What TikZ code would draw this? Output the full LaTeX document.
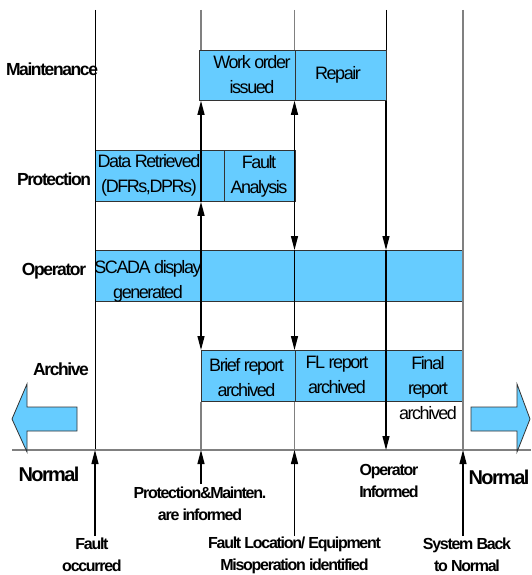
\documentclass[tikz,border=0pt]{standalone}
\usepackage{fontspec}
\setmainfont[LetterSpace=-8]{Liberation Sans}
\usetikzlibrary{arrows.meta}
\definecolor{boxblue}{RGB}{102,204,255}
\definecolor{linegrey}{RGB}{128,128,128}
\begin{document}
\begin{tikzpicture}[x=1pt,y=-1pt,
  box/.style={draw=black!80, fill=boxblue, line width=0.8pt, inner sep=0pt, anchor=north west},
  lane/.style={font=\bfseries\fontsize{17.5}{21}\selectfont, inner sep=0pt},
  txt/.style={font=\fontsize{18}{25}\selectfont, align=center, inner sep=0pt},
  evt/.style={font=\bfseries\fontsize{16}{22}\selectfont, align=center, inner sep=0pt},
  nrm/.style={font=\bfseries\fontsize{20}{24}\selectfont, inner sep=0pt},
  gl/.style={draw=linegrey, line width=1.2pt},
  bl/.style={draw=black, line width=0.8pt},
  arr/.style={draw=black, line width=1.2pt, -{Triangle[length=14pt,width=7pt]}},
  bigarrow/.style={draw=black!80, fill=boxblue, line width=0.8pt, line join=miter}
]
\useasboundingbox (0,0) rectangle (531,575);

% column coordinates
\coordinate (c1) at (95,10);
\coordinate (c2) at (201,10);
\coordinate (c3) at (294.5,10);
\coordinate (c4) at (386,10);
\coordinate (c5) at (463,10);
\coordinate (bl0) at (12,450);
\coordinate (bl1) at (531,450);

% boxes
\node[box, minimum width=95.5pt, minimum height=50pt] (wo) at (199,50) {};
\node[box, minimum width=91.5pt, minimum height=50pt] (rp) at (294.5,50) {};
\node[box, minimum width=129pt, minimum height=51pt] (dr) at (95,150) {};
\node[box, minimum width=70.5pt, minimum height=51pt] (fa) at (224,150) {};
\node[box, minimum width=368pt, minimum height=51pt] (op) at (95,250) {};
\node[box, minimum width=93.5pt, minimum height=51pt] (br) at (201,350) {};
\node[box, minimum width=91.5pt, minimum height=51pt] (fl) at (294.5,350) {};
\node[box, minimum width=77pt, minimum height=51pt] (fr) at (386,350) {};

% vertical timeline lines
\draw[bl] (c1) -- (c1 |- bl0);
\draw[gl] (c2) -- (c2 |- wo.north);
\draw[gl] (c2 |- br.south) -- (c2 |- bl0);
\draw[gl] (c3) -- (c3 |- rp.north);
\draw[gl] (c3 |- fl.south) -- (c3 |- bl0);
\draw[bl] (c4) -- (c4 |- rp.north);
\draw[gl] (c5) -- (c5 |- bl0);

% baseline
\draw[gl] (bl0) -- (bl1);

% big arrows
\draw[bigarrow] (12,419) -- (27,384) -- (27,407) -- (77,407) -- (77,431) -- (27,431) -- (27,452) -- cycle;
\draw[bigarrow] (530,419) -- (517,384) -- (517,407) -- (471,407) -- (471,431) -- (517,431) -- (517,452) -- cycle;

% arrows in column 2
\draw[black, line width=1.2pt] (c2 |- dr.north) -- (c2 |- dr.south);
\draw[black, line width=1.2pt] (c2 |- op.north) -- (c2 |- op.south);
\draw[arr] (c2 |- dr.north) -- (c2 |- wo.south);
\draw[arr] (c2 |- op.north) -- (c2 |- dr.south);
\draw[arr] (c2 |- op.south) -- (c2 |- br.north);
% column 3
\draw[black, line width=1.2pt] (c3 |- fa.north) -- (c3 |- fa.south);
\draw[arr] (c3 |- fa.north) -- (c3 |- rp.south);
\draw[arr] (c3 |- fa.south) -- (c3 |- op.north);
\draw[arr] (c3 |- op.north) -- (c3 |- fl.north);
% column 4
\draw[arr] (c4 |- rp.south) -- (c4 |- op.north);
\draw[arr] (c4 |- op.north) -- (c4 |- bl0);
% bottom arrows
\coordinate (u1) at (95,536);
\coordinate (u2) at (201,484);
\coordinate (u3) at (294.5,536);
\coordinate (u5) at (463,536);
\draw[arr] (u1) -- (c1 |- bl0);
\draw[arr] (u2) -- (c2 |- bl0);
\draw[arr] (u3) -- (c3 |- bl0);
\draw[arr] (u5) -- (c5 |- bl0);

% lane labels
\node[lane] (lm) at (52,69) {Maintenance};
\node[lane] (lp) at (54,179) {Protection};
\node[lane] (lo) at (54,271) {Operator};
\node[lane] (la) at (61,369) {Archive};

% box texts
\node[txt] (two) at (252,74.5) {Work order\\issued};
\node[txt] (trp) at (338,74.5) {Repair};
\node[txt] (tdr) at (149,175) {Data Retrieved\\(DFRs,DPRs)};
\node[txt] (tfa) at (259,176) {Fault\\Analysis};
\node[txt] (top) at (148,281) {SCADA display\\generated};
\node[txt] (tbr) at (246.5,377.5) {Brief report\\archived};
\node[txt] (tfl) at (337,375) {FL report\\archived};
\node[txt] (tfr) at (428,388) {Final\\report\\archived};

% bottom labels
\node[nrm] (n1) at (49,474) {Normal};
\node[nrm] (n2) at (499,477) {Normal};
\node[evt] (e2) at (200,504) {Protection\&Mainten.\\are informed};
\node[evt] (e4) at (389,480.5) {Operator\\Informed};
\node[evt] (e1) at (92,555) {Fault\\occurred};
\node[evt] (e3) at (294.5,555) {Fault Location/ Equipment\\Misoperation identified};
\node[evt] (e5) at (467,555) {System Back\\to Normal};
\end{tikzpicture}
\end{document}
